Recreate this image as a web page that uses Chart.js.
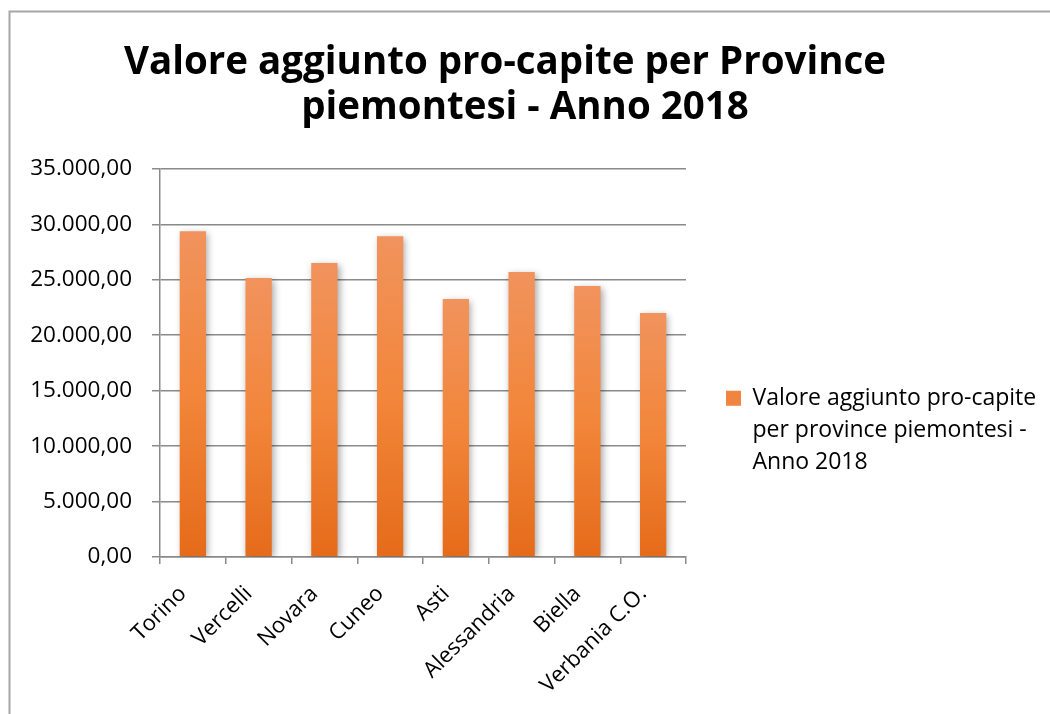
<!DOCTYPE html>
<html lang="it">
<head>
<meta charset="utf-8">
<title>Valore aggiunto pro-capite per Province piemontesi - Anno 2018</title>
<script src="https://cdn.jsdelivr.net/npm/chart.js@4.4.1/dist/chart.umd.min.js"></script>
<style>
  html, body { margin: 0; padding: 0; background: #fff; }
  #wrap { position: relative; width: 1050px; height: 714px; }
</style>
</head>
<body>
<div id="wrap">
  <canvas id="chart" width="1050" height="714"></canvas>
</div>
<script>
// dati
var province = ["Torino", "Vercelli", "Novara", "Cuneo", "Asti", "Alessandria", "Biella", "Verbania C.O."];
var valori = [29370, 25150, 26500, 28920, 23270, 25690, 24430, 22010];
// la prima riga del titolo in Excel finisce con spazi (va a capo dopo "Province")
var titolo = ["Valore aggiunto pro-capite per Province    ", "piemontesi - Anno 2018"];
// legenda su tre righe come in Excel
var legenda = ["Valore aggiunto pro-capite", "per province piemontesi -", "Anno 2018"];
var yMin = 0, yMax = 35000, yStep = 5000;

var FONT = "'Open Sans', sans-serif";
var GRID = "#8a8a8a";

function fmtIt(v) {
  var p = Number(v).toFixed(2).split(".");
  return p[0].replace(/\B(?=(\d{3})+(?!\d))/g, ".") + "," + p[1];
}

function barFill(ctx) {
  var chart = ctx.chart;
  if (ctx.type !== "data" || !chart.chartArea || !chart.scales.y) return "#f08a3e";
  var sy = chart.scales.y;
  var top = sy.getPixelForValue(ctx.raw), bottom = sy.getPixelForValue(0);
  var g = chart.ctx.createLinearGradient(0, top, 0, bottom);
  g.addColorStop(0, "#f1935d");
  g.addColorStop(0.5, "#f2863a");
  g.addColorStop(1, "#e56b1a");
  return g;
}

// cornice grigia (solo lato sinistro e alto visibili nel ritaglio)
var cornice = {
  id: "cornice",
  beforeDraw: function (chart) {
    var c = chart.ctx;
    c.save();
    c.strokeStyle = "#a6a6a6";
    c.lineWidth = 2;
    c.beginPath();
    c.moveTo(9.5, chart.height);
    c.lineTo(9.5, 11.5);
    c.lineTo(chart.width, 11.5);
    c.stroke();
    c.restore();
  }
};

var ombra = {
  id: "ombra",
  beforeDatasetsDraw: function (chart) {
    var c = chart.ctx;
    c.save();
    c.shadowColor = "rgba(0,0,0,0.35)";
    c.shadowBlur = 7;
    c.shadowOffsetX = 2;
    c.shadowOffsetY = 2;
  },
  afterDatasetsDraw: function (chart) {
    chart.ctx.restore();
  }
};

new Chart(document.getElementById("chart"), {
  type: "bar",
  data: {
    labels: province,
    datasets: [{
      label: legenda.join(" "),
      data: valori,
      backgroundColor: barFill,
      borderWidth: 0,
      barPercentage: 0.4,
      categoryPercentage: 1
    }]
  },
  options: {
    responsive: false,
    animation: false,
    layout: { padding: { top: 12, left: 10, right: 10, bottom: 0 }, autoPadding: false },
    plugins: {
      title: {
        display: true,
        text: titolo,
        color: "#000",
        font: { family: FONT, size: 38.5, weight: "bold", lineHeight: 1.18 },
        padding: { top: 28, bottom: 38 }
      },
      legend: {
        position: "right",
        fullSize: false,
        align: "start",
        maxWidth: 354,
        // titolo vuoto: serve solo a spingere la voce all'altezza di Excel
        title: { display: true, text: "", font: { size: 10, lineHeight: 1 }, padding: { top: 168, bottom: 0 } },
        labels: {
          boxWidth: 15,
          boxHeight: 15,
          padding: 40,
          color: "#000",
          font: { family: FONT, size: 23, lineHeight: 1.39 },
          generateLabels: function () {
            return [{
              text: legenda,
              fillStyle: "#ef8540",
              strokeStyle: "#ef8540",
              fontColor: "#000",
              lineWidth: 0,
              datasetIndex: 0,
              hidden: false
            }];
          }
        }
      },
      tooltip: { enabled: false }
    },
    scales: {
      x: {
        grid: { display: true, drawOnChartArea: false, drawTicks: true, tickLength: 7, color: GRID, lineWidth: 1.5, offset: true },
        border: { color: GRID, width: 1.5 },
        ticks: { autoSkip: false, maxRotation: 45, minRotation: 45, padding: 17, labelOffset: -10, color: "#000", font: { family: FONT, size: 22 } },
        afterFit: function (s) { s.height = 157; }
      },
      y: {
        min: yMin,
        max: yMax,
        grid: { color: GRID, lineWidth: 1.5, tickLength: 8 },
        border: { color: GRID, width: 1.5 },
        ticks: { stepSize: yStep, padding: 20, color: "#000", font: { family: FONT, size: 22.5 }, callback: fmtIt },
        afterFit: function (s) { s.width = 150; }
      }
    }
  },
  plugins: [cornice, ombra]
});
</script>
</body>
</html>
